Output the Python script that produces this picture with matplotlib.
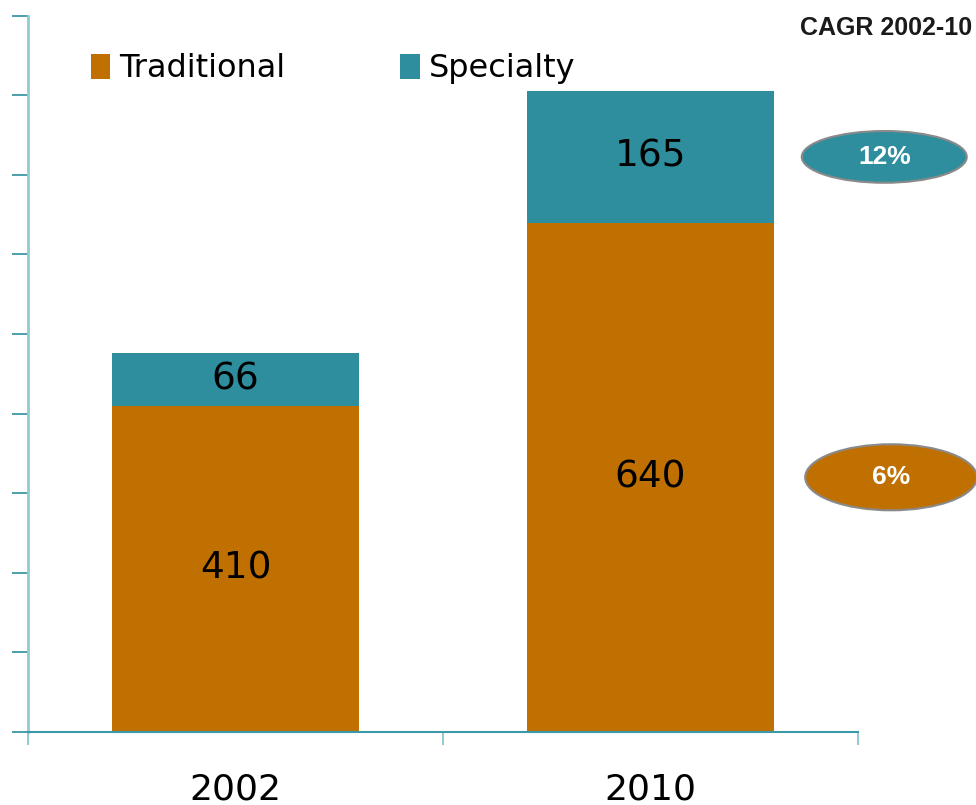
import matplotlib
matplotlib.use("Agg")
import matplotlib.pyplot as plt
from matplotlib.patches import Ellipse, Patch
import matplotlib.transforms as mtransforms

years = ["2002", "2010"]
traditional = [410, 640]
specialty = [66, 165]
cagr_labels = ["12%", "6%"]
series_names = ["Traditional", "Specialty"]

ORANGE = "#C07000"
TEAL = "#2E8E9E"

fig = plt.figure(figsize=(9.76, 8.05), dpi=100)
ax = fig.add_axes([0.0287, 0.0907, 0.8504, 0.8899])

x = list(range(len(years)))
bw = 0.593
ax.bar(x, traditional, width=bw, color=ORANGE, zorder=2)
ax.bar(x, specialty, width=bw, bottom=traditional, color=TEAL, zorder=2)

for i in x:
    ax.text(i, traditional[i] / 2, str(traditional[i]), ha="center", va="center",
            fontsize=27, color="black")
    ax.text(i, traditional[i] + specialty[i] / 2, str(specialty[i]), ha="center",
            va="center", fontsize=27, color="black")

ax.set_xlim(-0.5, 1.5)
ax.set_ylim(0, 900)
ax.set_yticks(range(0, 1000, 100))
ax.set_yticklabels([])
ax.tick_params(axis="y", length=11.5, width=1.2, color=TEAL, direction="out")

ax.set_xticks(x)
ax.set_xticklabels(years, fontsize=26)
ax.tick_params(axis="x", which="major", length=0, pad=29)
ax.set_xticks([-0.5, 0.5, 1.5], minor=True)
ax.tick_params(axis="x", which="minor", length=9, width=1.2, color="#7fc0ca", direction="out")

for s in ["top", "right"]:
    ax.spines[s].set_visible(False)
ax.spines["left"].set_color("#92cad3")
ax.spines["left"].set_linewidth(2)
ax.spines["bottom"].set_color("#3a9aaa")
ax.spines["bottom"].set_linewidth(1.5)

handles = [Patch(facecolor=ORANGE), Patch(facecolor=TEAL)]
ax.legend(handles, series_names, loc="upper left", bbox_to_anchor=(0.06, 0.965),
          ncol=2, frameon=False, fontsize=23, handlelength=0.6, handleheight=0.85,
          handletextpad=0.3, columnspacing=3.6, borderaxespad=0)

fig.text(0.996, 0.965, "CAGR 2002-10", ha="right", va="center", fontsize=18,
         fontweight="bold", family="Liberation Sans", color="#1a1a1a")

trans = mtransforms.blended_transform_factory(fig.transFigure, ax.transData)
tops = [traditional[1] + specialty[1] / 2, traditional[1] / 2]
ell_colors = [TEAL, ORANGE]
ell_x = [0.906, 0.913]
ell_w = [0.169, 0.176]
ell_h = [65, 83]
for lab, yv, c, ex, ew, eh in zip(cagr_labels, tops, ell_colors, ell_x, ell_w, ell_h):
    e = Ellipse((ex, yv), ew, eh, transform=trans, facecolor=c, edgecolor="#8a8a8a",
                linewidth=1.5, clip_on=False, zorder=3)
    fig.add_artist(e)
    t = fig.text(ex, yv, lab, ha="center", va="center", fontsize=19,
                 fontweight="bold", family="Liberation Sans", color="white", zorder=4)
    t.set_transform(trans)
    t.set_position((ex, yv))

fig.savefig("out.png", dpi=100)
